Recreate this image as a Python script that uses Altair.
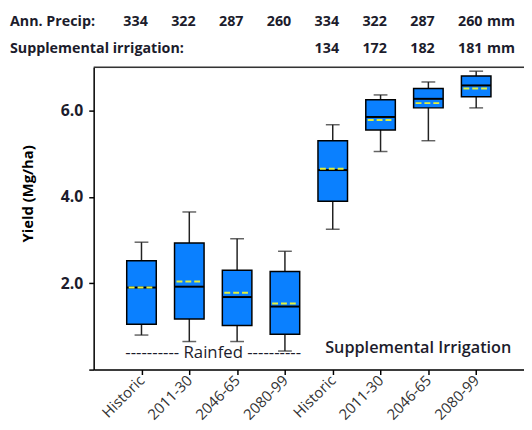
import altair as alt
import pandas as pd

# ---- data ----
periods = ["Historic", "2011-30", "2046-65", "2080-99", "Historic", "2011-30", "2046-65", "2080-99"]
groups = ["Rainfed"] * 4 + ["Supplemental Irrigation"] * 4
whisker_low = [0.80, 0.65, 0.65, 0.43, 3.25, 5.05, 5.30, 6.06]
q1 = [1.05, 1.17, 1.02, 0.82, 3.90, 5.55, 6.06, 6.32]
median = [1.90, 1.92, 1.68, 1.46, 4.62, 5.85, 6.27, 6.58]
mean = [1.90, 2.04, 1.78, 1.53, 4.65, 5.78, 6.17, 6.51]
q3 = [2.52, 2.93, 2.30, 2.27, 5.30, 6.25, 6.51, 6.80]
whisker_high = [2.95, 3.65, 3.03, 2.74, 5.67, 6.36, 6.66, 6.91]
ann_precip = [334, 322, 287, 260, 334, 322, 287, 260]
supp_irrig = [None, None, None, None, 134, 172, 182, 181]

FONT = "Open Sans"
TXT = "#1c1c2c"
W, H = 437, 307

df = pd.DataFrame({
    "idx": list(range(1, len(periods) + 1)),
    "period": periods,
    "group": groups,
    "lo": whisker_low, "q1": q1, "med": median, "mean": mean, "q3": q3, "hi": whisker_high,
    "precip": ann_precip, "irrig": supp_irrig,
})

label_expr = "[" + ",".join("'" + p + "'" for p in periods) + "][datum.value - 1]"

x = alt.X("idx:Q", scale=alt.Scale(domain=[0, len(periods) + 1], nice=False, zero=False, padding=0),
          axis=alt.Axis(values=list(range(1, len(periods) + 1)), labelExpr=label_expr,
                        labelAngle=-45, labelAlign="right", labelBaseline="middle",
                        labelOverlap=False, labelBound=False, labelFlush=False,
                        labelPadding=3, labelFont=FONT, labelFontSize=15, labelColor="#333",
                        tickColor="black", tickSize=5, tickWidth=1.5,
                        domainColor="black", domainWidth=1.5, grid=False, title=None))
y_axis = alt.Axis(values=[0, 2, 4, 6], labelExpr="datum.value == 0 ? '' : format(datum.value, '.1f')",
                  labelFont=FONT, labelFontSize=16, labelFontWeight="bold", labelColor=TXT,
                  labelPadding=6, tickColor="black", tickSize=5, tickWidth=1.5,
                  domainColor="black", domainWidth=1.5, grid=False,
                  title="Yield (Mg/ha)", titleFont=FONT, titleFontSize=15, titleFontWeight="bold",
                  titleColor="black", titlePadding=25, titleY=128)
yscale = alt.Scale(domain=[0, 7], nice=False, padding=0)

base = alt.Chart(df)

whisk = base.mark_rule(color="#222", strokeWidth=1.5).encode(
    x=x, y=alt.Y("lo:Q", scale=yscale, axis=y_axis), y2="hi:Q")
cap_lo = base.mark_tick(orient="horizontal", size=14, thickness=1.5, color="#222").encode(
    x="idx:Q", y="lo:Q")
cap_hi = base.mark_tick(orient="horizontal", size=14, thickness=1.5, color="#222").encode(
    x="idx:Q", y="hi:Q")
box = base.mark_bar(size=30, color="#0A80FF", stroke="black", strokeWidth=1.5).encode(
    x="idx:Q", y="q1:Q", y2="q3:Q")
med = base.mark_rule(color="black", strokeWidth=2, xOffset=-15, x2Offset=15).encode(
    x="idx:Q", x2="idx:Q", y="med:Q")
mn = base.mark_rule(color="#E3F03A", strokeWidth=2, strokeDash=[6, 3], xOffset=-13, x2Offset=13).encode(
    x="idx:Q", x2="idx:Q", y="mean:Q")

top_border = base.transform_filter("datum.idx == 1").mark_rule(color="#333", strokeWidth=1.5).encode(
    x=alt.value(0), x2=alt.value(W), y=alt.value(0))

HDR = dict(font=FONT, fontSize=14.5, fontWeight="bold", color=TXT, baseline="alphabetic")
hdr1 = base.mark_text(dx=-6, **HDR).encode(x="idx:Q", y=alt.value(-42), text="precip:Q")
hdr2 = base.transform_filter("datum.irrig != null").mark_text(dx=-6, **HDR).encode(
    x="idx:Q", y=alt.value(-15), text="irrig:Q")

rows = pd.DataFrame({"t": ["Ann. Precip:", "Supplemental irrigation:"], "yy": [-42, -15]})
row_lbl = alt.Chart(rows).mark_text(align="left", **HDR).encode(
    x=alt.value(-85), y=alt.Y("yy:Q", scale=None), text="t:N")
last = base.transform_filter(f"datum.idx == {len(periods)}")
mm = last.mark_text(align="left", dx=11, **HDR).encode(x="idx:Q", y=alt.value(-42), text=alt.value("mm"))
mm2 = last.mark_text(align="left", dx=11, **HDR).encode(x="idx:Q", y=alt.value(-15), text=alt.value("mm"))

ann = base.transform_aggregate(cx="mean(idx)", groupby=["group"]).transform_calculate(
    label="datum.group == 'Rainfed' ? '---------- Rainfed ----------' : datum.group")
ann_r = ann.transform_filter("datum.group == 'Rainfed'").mark_text(
    font=FONT, fontSize=17, color=TXT, baseline="middle").encode(
    x="cx:Q", y=alt.value(290), text="label:N")
ann_s = ann.transform_filter("datum.group != 'Rainfed'").mark_text(
    font=FONT, fontSize=16.5, fontWeight=600, color=TXT, baseline="middle", dx=14).encode(
    x="cx:Q", y=alt.value(285), text="label:N")

chart = alt.layer(whisk, cap_lo, cap_hi, box, med, mn, top_border, hdr1, hdr2, row_lbl, mm, mm2,
                  ann_r, ann_s).properties(
    width=W, height=H,
    autosize=alt.AutoSizeParams(type="none"),
    padding={"left": 87, "top": 57, "right": 0, "bottom": 50},
).configure_view(stroke=None).configure(background="white")

chart.save("out.html", embed_options={"renderer": "svg", "actions": False})
